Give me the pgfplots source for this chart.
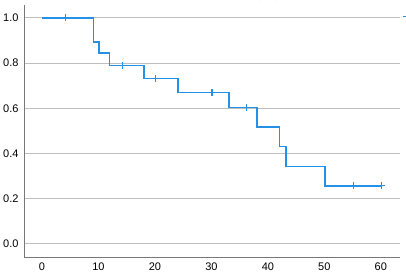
\documentclass[border=0pt]{standalone}
\usepackage{pgfplots}
\pgfplotsset{compat=1.18}
\usepackage{fontspec}
\setmainfont{Liberation Sans}
\newfontfamily\cjk{Noto Sans CJK SC}
\definecolor{kmblue}{RGB}{35,145,232}
\definecolor{gridgray}{RGB}{190,190,190}
\definecolor{spinegray}{RGB}{120,120,120}
\begin{document}
\begin{tikzpicture}
\begin{axis}[
  scale only axis,
  width=376pt, height=252pt,
  xmin=-3.19, xmax=63.4,
  ymin=-0.0575, ymax=1.057,
  axis lines=left,
  axis line style={spinegray, line width=0.8pt, -},
  xtick={0,10,20,30,40,50,60},
  ytick={0,0.2,0.4,0.6,0.8,1.0},
  major tick length=0pt,
  ymajorgrids,
  grid style={gridgray, line width=1pt},
  /pgf/number format/assume math mode=true,
  yticklabel style={/pgf/number format/fixed, /pgf/number format/fixed zerofill, /pgf/number format/precision=1},
  tick label style={font=\fontsize{11}{13}\selectfont, text=black},
  xticklabel style={yshift=-2pt},
  yticklabel style={xshift=-2pt},
  legend style={at={(1.0,0.985)}, anchor=north west, draw=none, fill=none,
    inner xsep=2pt, inner ysep=0pt, row sep=-1.5pt,
    font=\cjk\fontsize{11}{13}\selectfont},
  legend cell align=left,
  clip=false,
]
\addplot[const plot, draw=kmblue, line width=1.4pt] coordinates {
  (0,1.0) (9.1,0.894) (10.1,0.845) (12.0,0.789) (18.05,0.733) (24.1,0.671)
  (33.1,0.604) (38.05,0.517) (42.1,0.430) (43.2,0.344) (50.1,0.257) (60.1,0.257)
};
\addlegendentry{生存函数}
\addplot[only marks, draw=kmblue, mark=+, mark size=3.5pt, mark options={draw=kmblue, line width=1.1pt}] coordinates {
  (4.2,1.0) (14.2,0.789) (20.1,0.733) (30.1,0.671) (36.2,0.604) (55.1,0.257) (60.1,0.257)
};
\addlegendentry{已检剔}
\end{axis}
\node[anchor=base, inner sep=0pt, font=\cjk\fontsize{13}{15}\selectfont] at ([xshift=50pt,yshift=5.5pt]current axis.north) {生存函数曲线};
\pgfresetboundingbox
\path[use as bounding box] ([xshift=-24pt,yshift=-23pt]current axis.south west) rectangle ([xshift=6pt,yshift=5pt]current axis.north east);
\end{tikzpicture}
\end{document}
